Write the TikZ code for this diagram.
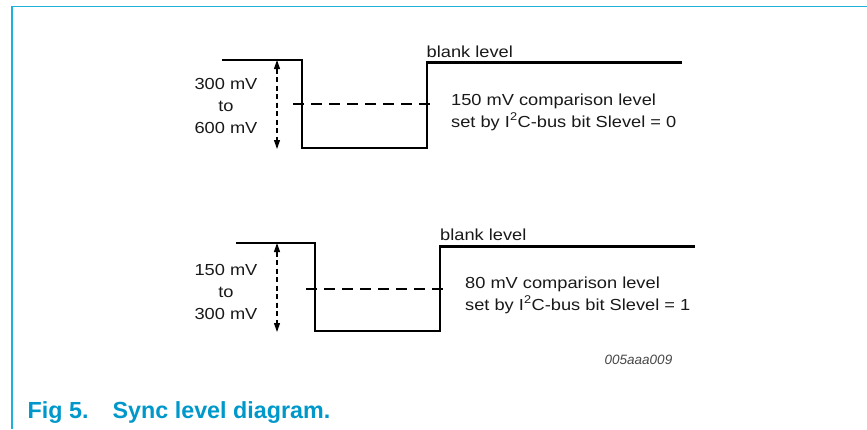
\documentclass[tikz,border=0pt]{standalone}
\usepackage{fontspec}
\setmainfont{Liberation Sans}
\usepackage{graphicx}
\usetikzlibrary{arrows.meta}
\definecolor{framecol}{RGB}{30,178,218}
\definecolor{capcol}{RGB}{0,152,202}
\definecolor{idcol}{RGB}{70,70,70}
\definecolor{txtcol}{RGB}{25,25,25}
\newcommand{\stretchtxt}[1]{\scalebox{1.14}[1]{#1}}
\begin{document}
\begin{tikzpicture}[x=1bp,y=-1bp,
  lbl/.style={inner sep=0pt,anchor=base west,text=txtcol,font=\fontsize{16bp}{19bp}\selectfont},
  lblc/.style={inner sep=0pt,anchor=base,text=txtcol,font=\fontsize{16bp}{19bp}\selectfont},
  wave/.style={line width=2.8bp,line join=miter,line cap=rect},
  cmp/.style={line width=1.1bp,dash pattern=on 11bp off 7bp},
  span/.style={line width=1.1bp,dash pattern=on 5bp off 3.5bp,{Triangle[length=9bp,width=6bp]}-{Triangle[length=9bp,width=6bp]}},
  framel/.style={line width=1.6bp,draw=framecol}]
\useasboundingbox (0,0) rectangle (867,429);
% frame
\coordinate (fTL) at (12,6.5);
\coordinate (fTR) at (867,6.5);
\coordinate (fBL) at (12,429);
\draw[framel] (fBL) -- (fTL) -- (fTR);
% top waveform
\coordinate (a1) at (223,60);
\coordinate (a2) at (302,60);
\coordinate (a3) at (302,148);
\coordinate (a4) at (427,148);
\coordinate (a5) at (427,62.5);
\coordinate (a6) at (681,62.5);
\draw[wave] (a1) -- (a2) -- (a3) -- (a4) -- (a5) -- (a6);
\coordinate (ad1) at (293,104);
\coordinate (ad2) at (434,104);
\draw[cmp] (ad1) -- (ad2);
\coordinate (as1) at (277,60);
\coordinate (as2) at (277,149);
\draw[span] (as1) -- (as2);
\node[lblc] (t1a) at (226,89) {\stretchtxt{300 mV}};
\node[lblc] (t1b) at (226,111) {\stretchtxt{to}};
\node[lblc] (t1c) at (226,133) {\stretchtxt{600 mV}};
\node[lbl] (t1bl) at (426.5,57) {\stretchtxt{blank level}};
\node[lbl] (t1d) at (451,105) {\stretchtxt{150 mV comparison level}};
\node[lbl] (t1e) at (451,127) {\stretchtxt{set by I\textsuperscript{2}C-bus bit Slevel = 0}};
% bottom waveform
\coordinate (b1) at (237,243);
\coordinate (b2) at (315,243);
\coordinate (b3) at (315,331);
\coordinate (b4) at (440,331);
\coordinate (b5) at (440,246.5);
\coordinate (b6) at (694,246.5);
\draw[wave] (b1) -- (b2) -- (b3) -- (b4) -- (b5) -- (b6);
\coordinate (bd1) at (306,289);
\coordinate (bd2) at (447,289);
\draw[cmp] (bd1) -- (bd2);
\coordinate (bs1) at (277,243);
\coordinate (bs2) at (277,332);
\draw[span] (bs1) -- (bs2);
\node[lblc] (t2a) at (226,275) {\stretchtxt{150 mV}};
\node[lblc] (t2b) at (226,297) {\stretchtxt{to}};
\node[lblc] (t2c) at (226,319) {\stretchtxt{300 mV}};
\node[lbl] (t2bl) at (440,240) {\stretchtxt{blank level}};
\node[lbl] (t2d) at (465,288) {\stretchtxt{80 mV comparison level}};
\node[lbl] (t2e) at (465,310) {\stretchtxt{set by I\textsuperscript{2}C-bus bit Slevel = 1}};
% id
\node[inner sep=0pt,anchor=base west,text=idcol,font=\fontsize{13.5bp}{16bp}\selectfont\itshape] (id) at (604.5,364) {005aaa009};
% caption
\node[inner sep=0pt,anchor=base west,text=capcol,font=\fontsize{23.3bp}{27bp}\selectfont\bfseries] (cap1) at (27.5,418) {Fig 5.};
\node[inner sep=0pt,anchor=base west,text=capcol,font=\fontsize{23.3bp}{27bp}\selectfont\bfseries] (cap2) at (112.5,418) {Sync level diagram.};
\end{tikzpicture}
\end{document}
